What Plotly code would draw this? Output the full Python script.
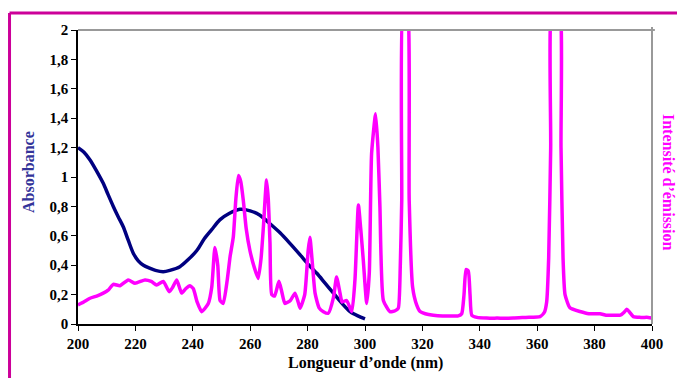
import plotly.graph_objects as go

# Absorbance (navy)
abs_x = [200, 202, 204.2, 206.5, 208.8, 210.5, 212.3, 214, 215.8, 217.5, 219.3, 221, 222.8, 225, 227,
         229.7, 232, 235.5, 238.5, 241.4, 244, 246.5, 249.5, 252.5, 256.4, 260, 263.4, 267, 270.4,
         274, 277.4, 280.5, 283.2, 286, 289, 292, 294.8, 297.5, 300]
abs_y = [1.20, 1.17, 1.116, 1.04, 0.957, 0.88, 0.80, 0.73, 0.66, 0.57, 0.48, 0.43, 0.40, 0.38, 0.365,
         0.356, 0.365, 0.39, 0.44, 0.50, 0.58, 0.64, 0.71, 0.75, 0.78, 0.77, 0.74, 0.68, 0.62,
         0.545, 0.47, 0.40, 0.345, 0.28, 0.21, 0.14, 0.084, 0.055, 0.035]

# Emission intensity (magenta)
em_x = [200, 202, 204.2, 206.5, 208.8, 210.5, 212.3, 214.6, 217.5, 219.9, 223.3, 225.5, 227.4, 229.7,
        231.8, 233, 234.4, 236.1, 237.5, 239, 240.2, 241.5, 243.1, 245.4, 246.6, 247.7, 248.7, 249.5,
        250.6, 252, 253, 254.1, 255, 255.9, 256.7, 257.6, 258.6, 259.9, 261.5, 262.8, 263.8, 264.6,
        265.7, 266.3, 266.9, 267.5, 268.5, 270, 271, 272.1, 274, 275.6, 276.7, 277.4, 279, 280.2,
        280.8, 281.5, 282.6, 284, 285.5, 287.2, 289, 290.1, 291.3, 292, 293.6, 295.4, 296.5, 297.7,
        298.5, 299.4, 300.6, 301.5, 302.3, 303.7, 304.5, 305.2, 306.4, 308.7, 310.5, 311.6, 312.3,
        312.8, 313.4, 314.6, 315.4, 316.6, 318, 319.2, 321, 323.8, 327, 330, 332.5, 333.7, 334.5,
        335.2, 336, 336.6, 337.2, 339, 342.4, 346, 351.7, 356, 361, 362.5, 363.3, 364, 364.7, 365.3,
        367.6, 368.3, 369, 369.7, 371.4, 374.9, 378, 381.9, 384, 386.5, 389, 390.3, 391.2, 392.2,
        393.5, 396, 398.7, 400]
em_y = [0.13, 0.15, 0.175, 0.19, 0.21, 0.23, 0.27, 0.26, 0.30, 0.277, 0.30, 0.29, 0.265, 0.29,
        0.22, 0.25, 0.30, 0.21, 0.24, 0.26, 0.24, 0.15, 0.084, 0.14, 0.25, 0.52, 0.40, 0.16,
        0.14, 0.30, 0.46, 0.59, 0.85, 1.01, 0.97, 0.84, 0.65, 0.50, 0.38, 0.31, 0.45, 0.66,
        0.98, 0.85, 0.55, 0.20, 0.19, 0.29, 0.22, 0.14, 0.16, 0.21, 0.15, 0.107, 0.20, 0.50,
        0.59, 0.45, 0.21, 0.11, 0.084, 0.073, 0.18, 0.32, 0.21, 0.15, 0.16, 0.084, 0.30, 0.81,
        0.65, 0.435, 0.14, 0.35, 1.16, 1.43, 1.20, 0.80, 0.16, 0.084, 0.09, 0.107, 0.40,
        0.84, 2.2, 2.2, 0.84, 0.25, 0.13, 0.085, 0.07, 0.06, 0.055, 0.055, 0.055, 0.07, 0.20,
        0.37, 0.36, 0.20, 0.06, 0.045, 0.04, 0.04, 0.04, 0.045, 0.05, 0.08, 0.15, 0.45, 1.2, 2.2,
        2.2, 1.2, 0.45, 0.20, 0.11, 0.085, 0.07, 0.07, 0.06, 0.06, 0.06, 0.08, 0.10, 0.08,
        0.05, 0.045, 0.045, 0.04]

x_ticks = [200, 220, 240, 260, 280, 300, 320, 340, 360, 380, 400]
y_ticks = [0, 0.2, 0.4, 0.6, 0.8, 1, 1.2, 1.4, 1.6, 1.8, 2]

FONT = "Liberation Serif"

fig = go.Figure()
fig.add_trace(go.Scatter(x=abs_x, y=abs_y, mode="lines",
                         line=dict(color="#000080", width=3.5, shape="spline", smoothing=0.8),
                         showlegend=False))
fig.add_trace(go.Scatter(x=em_x, y=em_y, mode="lines",
                         line=dict(color="#FF00FF", width=3.5, shape="spline", smoothing=0.5),
                         showlegend=False))

fig.update_layout(
    width=677, height=378,
    margin=dict(l=78, r=25, t=30, b=54),
    paper_bgcolor="white", plot_bgcolor="white",
    separators=", ",
    xaxis=dict(range=[200, 400], tickvals=x_ticks, showgrid=False, zeroline=False,
               showline=True, linecolor="black", linewidth=1.5,
               ticks="outside", ticklen=5, tickcolor="black",
               tickfont=dict(family=FONT, size=15, color="black", weight="bold")),
    yaxis=dict(range=[0, 2], tickvals=y_ticks, showgrid=False, zeroline=False,
               showline=True, linecolor="black", linewidth=1.5,
               ticks="outside", ticklen=5, tickcolor="black",
               tickfont=dict(family=FONT, size=15, color="black", weight="bold")),
    shapes=[
        # gray top and right border of plot area
        dict(type="line", xref="paper", yref="paper", x0=0, x1=1.005, y0=1, y1=1,
             line=dict(color="#999999", width=2)),
        dict(type="line", xref="paper", yref="paper", x0=1, x1=1, y0=0, y1=1.01,
             line=dict(color="#999999", width=2)),
        # magenta frame
        dict(type="line", xref="paper", yref="paper", x0=-0.1193, x1=-0.1193, y0=-0.19, y1=1.0578,
             line=dict(color="#CC0099", width=3)),
        dict(type="line", xref="paper", yref="paper", x0=-0.1193, x1=1.05, y0=1.0578, y1=1.0578,
             line=dict(color="#CC0099", width=3)),
    ],
    annotations=[
        dict(text="Longueur d’onde (nm)", xref="paper", yref="paper", x=0.5, y=-0.132,
             xanchor="center", yanchor="middle", showarrow=False,
             font=dict(family=FONT, size=16, color="black", weight="bold")),
        dict(text="Absorbance", xref="paper", yref="paper", x=-0.0871, y=0.517,
             xanchor="center", yanchor="middle", textangle=-90, showarrow=False,
             font=dict(family=FONT, size=16, color="#333399", weight="bold")),
        dict(text="Intensité d’émission", xref="paper", yref="paper", x=1.0279, y=0.483,
             xanchor="center", yanchor="middle", textangle=90, showarrow=False,
             font=dict(family=FONT, size=16, color="#FF00FF", weight="bold")),
    ],
)

fig.write_html("out.html", config={"displayModeBar": False},
               post_script="document.body.style.margin='0';document.body.style.overflow='hidden';")
